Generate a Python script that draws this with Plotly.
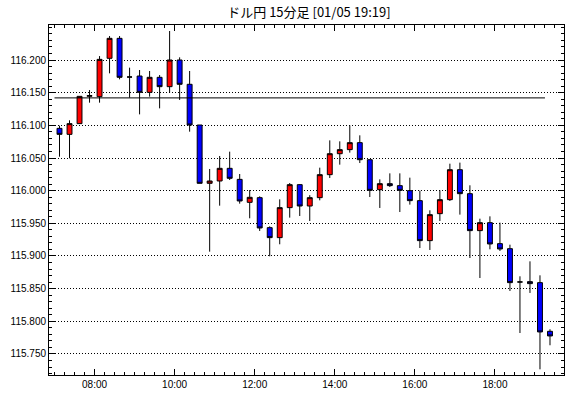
import datetime as dt
import plotly.graph_objects as go

title_text = "ドル円 15分足 [01/05 19:19]"
day = "2022-01-05"
first_time = "07:00"
n_candles = 50

opens = [116.0954, 116.0862, 116.1026, 116.1445, 116.1439, 116.2026, 116.2332, 116.1740, 116.1755, 116.1505,
         116.1735, 116.1592, 116.2000, 116.1628, 116.1005, 116.0112, 116.0148, 116.0342, 116.0173, 115.9821,
         115.9893, 115.9434, 115.9281, 115.9740, 116.0092, 115.9765, 115.9893, 116.0245, 116.0566, 116.0628,
         116.0735, 116.0474, 116.0015, 116.0107, 116.0077, 116.0000, 115.9847, 115.9235, 115.9648, 115.9862,
         116.0321, 115.9954, 115.9388, 115.9510, 115.9189, 115.9112, 115.8602, 115.8607, 115.8592, 115.7847]
highs = [116.0995, 116.1077, 116.1444, 116.1540, 116.2060, 116.2367, 116.2367, 116.1883, 116.1847, 116.1832,
         116.1770, 116.2444, 116.2041, 116.1832, 116.1005, 116.0332, 116.0531, 116.0597, 116.0255, 116.0010,
         115.9913, 115.9454, 115.9867, 116.0117, 116.0100, 115.9931, 116.0352, 116.0770, 116.0755, 116.1000,
         116.0847, 116.0474, 116.0173, 116.0265, 116.0265, 116.0199, 116.0000, 115.9699, 116.0005, 116.0413,
         116.0429, 116.0082, 115.9571, 115.9607, 115.9510, 115.9173, 115.8689, 115.8918, 115.8704, 115.7878]
lows = [116.0520, 116.0495, 116.1026, 116.1347, 116.1347, 116.1796, 116.1704, 116.1423, 116.1168, 116.1439,
        116.1260, 116.1500, 116.1388, 116.0903, 116.0112, 115.9066, 115.9770, 116.0163, 115.9801, 115.9577,
        115.9383, 115.8995, 115.9179, 115.9587, 115.9612, 115.9536, 115.9852, 116.0194, 116.0398, 116.0582,
        116.0423, 115.9903, 115.9735, 116.0056, 115.9673, 115.9786, 115.9122, 115.9092, 115.9536, 115.9842,
        115.9633, 115.8969, 115.8663, 115.9102, 115.9077, 115.8464, 115.7821, 115.8434, 115.7265, 115.7633]
closes = [116.0862, 116.1026, 116.1444, 116.1455, 116.2010, 116.2332, 116.1735, 116.1740, 116.1505, 116.1735,
          116.1592, 116.2000, 116.1628, 116.1005, 116.0112, 116.0148, 116.0342, 116.0189, 115.9842, 115.9898,
          115.9429, 115.9281, 115.9740, 116.0092, 115.9765, 115.9893, 116.0245, 116.0566, 116.0628, 116.0735,
          116.0474, 116.0005, 116.0107, 116.0077, 116.0005, 115.9847, 115.9235, 115.9633, 115.9862, 116.0321,
          115.9954, 115.9388, 115.9510, 115.9184, 115.9107, 115.8592, 115.8602, 115.8577, 115.7837, 115.7776]

ref_level = 116.142
y_ticks = [115.75, 115.80, 115.85, 115.90, 115.95, 116.00, 116.05, 116.10, 116.15, 116.20]
y_tick_labels = ["115.750", "115.800", "115.850", "115.900", "115.950",
                 "116.000", "116.050", "116.100", "116.150", "116.200"]

step = dt.timedelta(minutes=15)
start = dt.datetime.fromisoformat(f"{day} {first_time}")
starts = [start + i * step for i in range(n_candles)]
centers = [t + step / 2 for t in starts]

fig = go.Figure()
fig.add_trace(go.Candlestick(
    x=centers, open=opens, high=highs, low=lows, close=closes,
    increasing=dict(fillcolor="#FF0000", line=dict(color="black", width=1)),
    decreasing=dict(fillcolor="#0000FF", line=dict(color="black", width=1)),
    whiskerwidth=0, showlegend=False, hoverinfo="skip",
))

fig.add_shape(type="line", xref="x", yref="y",
              x0=starts[0], x1=starts[-1], y0=ref_level, y1=ref_level,
              line=dict(color="black", width=1))

x_lo = dt.datetime.fromisoformat(f"{day} 06:51:45")
x_hi = dt.datetime.fromisoformat(f"{day} 19:43:30")

fig.update_layout(
    width=570, height=398,
    margin=dict(l=49, r=6, t=25, b=23, autoexpand=False),
    paper_bgcolor="white", plot_bgcolor="white",
    font=dict(family="Liberation Sans, Arial, sans-serif", size=10, color="black"),
    title=dict(text=title_text, x=0.542, xanchor="center", y=0.98, yanchor="top",
               automargin=False,
               font=dict(family="Noto Sans CJK JP, sans-serif", size=13, color="black")),
    showlegend=False,
    boxgap=0.3,
)
fig.update_xaxes(
    type="date", range=[x_lo, x_hi], automargin=False,
    rangeslider=dict(visible=False),
    tickformat="%H:%M", dtick=2 * 3600 * 1000, tick0=f"{day} 00:00",
    ticks="inside", ticklen=6, tickcolor="black", tickwidth=1,
    minor=dict(ticks="inside", dtick=15 * 60 * 1000, tick0=f"{day} 00:00", ticklen=3,
               tickcolor="black", tickwidth=1, showgrid=False),
    showline=True, linecolor="black", linewidth=1, mirror="ticks",
    showgrid=False, zeroline=False,
    tickfont=dict(size=10),
)
fig.update_yaxes(
    range=[115.7178, 116.2536], automargin=False,
    tickvals=y_ticks, ticktext=y_tick_labels,
    ticks="inside", ticklen=6, tickcolor="black", tickwidth=1,
    minor=dict(ticks="inside", dtick=0.01, tick0=115.7, ticklen=3,
               tickcolor="black", tickwidth=1, showgrid=False),
    showline=True, linecolor="black", linewidth=1, mirror="ticks",
    showgrid=True, gridcolor="black", gridwidth=1, griddash="1px,2px",
    zeroline=False,
    tickfont=dict(size=10),
)

fig.write_html("out.html", config={"displayModeBar": False, "staticPlot": True},
               post_script="document.body.style.margin='0';document.body.style.overflow='hidden';")
